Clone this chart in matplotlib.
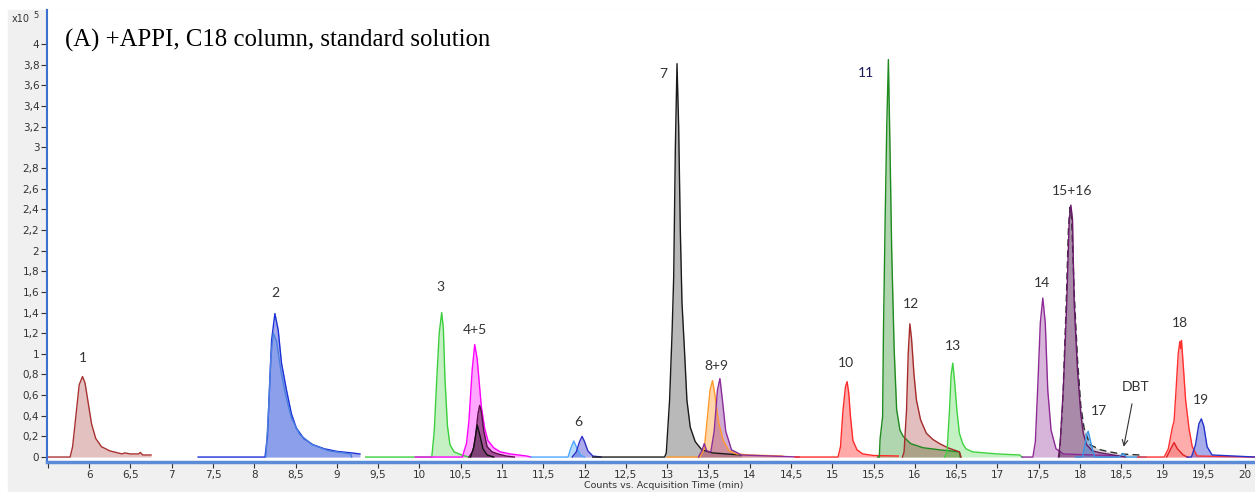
import numpy as np
import matplotlib
matplotlib.use('Agg')
import matplotlib.pyplot as plt
from matplotlib.patches import Rectangle
from matplotlib.ticker import FuncFormatter, MultipleLocator

# retention time (min) / intensity (x10^5 counts)
p1_t = [5.50, 5.77, 5.80, 5.84, 5.88, 5.92, 5.95, 5.99, 6.03, 6.08, 6.15, 6.25, 6.35, 6.40, 6.43, 6.50, 6.60, 6.62, 6.65, 6.75]
p1_y = [0, 0, 0.10, 0.40, 0.70, 0.78, 0.72, 0.52, 0.32, 0.18, 0.10, 0.06, 0.04, 0.03, 0.04, 0.03, 0.03, 0.045, 0.02, 0.02]

p2a_t = [7.32, 8.13, 8.16, 8.18, 8.21, 8.25, 8.29, 8.33, 8.39, 8.45, 8.51, 8.60, 8.71, 8.85, 9.00, 9.18, 9.28]
p2a_y = [0, 0, 0.20, 0.58, 1.13, 1.39, 1.23, 0.91, 0.65, 0.42, 0.28, 0.18, 0.12, 0.08, 0.055, 0.04, 0.03]
p2b_t = [8.14, 8.17, 8.20, 8.23, 8.27, 8.32, 8.38, 8.45, 8.55, 8.70, 8.90, 9.17, 9.18]
p2b_y = [0, 0.40, 0.95, 1.20, 1.12, 0.85, 0.60, 0.38, 0.22, 0.12, 0.06, 0.03, 0]

p3_t = [9.35, 10.15, 10.18, 10.21, 10.24, 10.27, 10.29, 10.31, 10.34, 10.37, 10.42, 10.51, 10.60]
p3_y = [0, 0, 0.25, 0.75, 1.20, 1.40, 1.25, 0.75, 0.30, 0.12, 0.05, 0.02, 0]

p4_t = [9.95, 10.52, 10.55, 10.57, 10.60, 10.64, 10.67, 10.70, 10.75, 10.79, 10.83, 10.90, 10.98, 11.10, 11.30, 11.35]
p4_y = [0, 0, 0.08, 0.13, 0.35, 0.85, 1.09, 0.95, 0.49, 0.28, 0.16, 0.09, 0.05, 0.03, 0.01, 0]
p5a_t = [10.60, 10.65, 10.68, 10.71, 10.73, 10.75, 10.78, 10.82, 10.88, 10.95, 11.05, 11.15]
p5a_y = [0, 0.06, 0.20, 0.42, 0.50, 0.44, 0.25, 0.10, 0.05, 0.03, 0.01, 0]
p5b_t = [10.62, 10.66, 10.70, 10.73, 10.77, 10.82, 10.90]
p5b_y = [0, 0.10, 0.31, 0.22, 0.08, 0.02, 0]

p6a_t = [11.35, 11.80, 11.84, 11.87, 11.90, 11.95, 12.00]
p6a_y = [0, 0, 0.10, 0.155, 0.10, 0.02, 0]
p6b_t = [11.85, 11.90, 11.94, 11.97, 12.00, 12.04, 12.10, 12.20]
p6b_y = [0, 0.05, 0.15, 0.20, 0.15, 0.06, 0.01, 0]

p7_t = [12.10, 12.97, 12.99, 13.03, 13.06, 13.08, 13.10, 13.12, 13.14, 13.16, 13.18, 13.21, 13.24, 13.28, 13.34, 13.42, 13.55, 13.72, 13.90]
p7_y = [0, 0, 0.04, 0.55, 1.20, 1.75, 3.00, 3.81, 3.20, 2.20, 1.50, 1.04, 0.55, 0.29, 0.15, 0.07, 0.04, 0.03, 0.02]

p8_t = [13.00, 13.40, 13.45, 13.49, 13.52, 13.55, 13.58, 13.62, 13.68, 13.75, 13.84, 14.00, 14.40]
p8_y = [0, 0, 0.08, 0.40, 0.65, 0.74, 0.60, 0.35, 0.16, 0.06, 0.03, 0.02, 0.01]
p9_t = [13.38, 13.42, 13.45, 13.48, 13.53, 13.57, 13.61, 13.64, 13.67, 13.71, 13.78, 13.90, 14.60]
p9_y = [0, 0.06, 0.13, 0.06, 0.05, 0.25, 0.65, 0.76, 0.55, 0.25, 0.07, 0.02, 0]

p10_t = [14.55, 15.07, 15.10, 15.13, 15.16, 15.18, 15.20, 15.22, 15.25, 15.30, 15.37, 15.50, 15.80]
p10_y = [0, 0, 0.10, 0.45, 0.68, 0.73, 0.62, 0.40, 0.16, 0.07, 0.03, 0.015, 0.01]

p11_t = [15.55, 15.57, 15.58, 15.61, 15.62, 15.64, 15.66, 15.68, 15.70, 15.72, 15.75, 15.78, 15.82, 15.86, 15.95, 16.10, 16.30, 16.54, 16.55]
p11_y = [0, 0, 0.18, 0.39, 1.20, 2.26, 3.20, 3.85, 2.97, 2.00, 1.04, 0.46, 0.26, 0.20, 0.13, 0.09, 0.07, 0.05, 0]

p12_t = [15.85, 15.87, 15.90, 15.92, 15.94, 15.96, 15.99, 16.02, 16.07, 16.14, 16.22, 16.30, 16.40, 16.54, 16.56]
p12_y = [0, 0.05, 0.46, 1.00, 1.29, 1.15, 0.80, 0.55, 0.36, 0.23, 0.17, 0.13, 0.09, 0.05, 0]

p13_t = [16.36, 16.39, 16.42, 16.44, 16.46, 16.48, 16.51, 16.54, 16.58, 16.62, 16.70, 16.85, 17.00, 17.27, 17.30]
p13_y = [0, 0.05, 0.45, 0.80, 0.91, 0.75, 0.45, 0.23, 0.13, 0.08, 0.05, 0.04, 0.03, 0.02, 0]

p14_t = [17.30, 17.43, 17.46, 17.49, 17.52, 17.55, 17.58, 17.61, 17.65, 17.71, 17.80, 18.50]
p14_y = [0, 0, 0.15, 0.70, 1.30, 1.54, 1.30, 0.65, 0.26, 0.08, 0.03, 0.01]

p15_t = [17.74, 17.76, 17.80, 17.84, 17.87, 17.89, 17.91, 17.93, 17.97, 18.01, 18.04, 18.08, 18.15, 18.25, 18.40, 18.55]
p15_y = [0, 0.13, 0.68, 1.49, 2.30, 2.44, 2.30, 1.49, 0.84, 0.42, 0.23, 0.12, 0.06, 0.04, 0.02, 0]
p16_t = [17.75, 17.79, 17.83, 17.86, 17.88, 17.90, 17.93, 17.97, 18.01, 18.05, 18.12, 18.25, 18.36, 18.50, 18.72, 18.75]
p16_y = [0, 0.50, 1.40, 2.20, 2.42, 2.30, 1.60, 0.95, 0.50, 0.28, 0.12, 0.07, 0.05, 0.03, 0.02, 0]

p17_t = [17.95, 18.03, 18.06, 18.08, 18.10, 18.12, 18.15, 18.18, 18.25]
p17_y = [0, 0, 0.12, 0.22, 0.25, 0.18, 0.08, 0, 0]
dbt_t = [18.25, 18.47, 18.50, 18.52, 18.54, 18.57, 18.80]
dbt_y = [0, 0, 0.02, 0.035, 0.02, 0, 0]

p18_t = [18.70, 19.02, 19.07, 19.12, 19.14, 19.16, 19.19, 19.21, 19.22, 19.23, 19.25, 19.28, 19.32, 19.36, 19.42, 20.12]
p18_y = [0, 0, 0.08, 0.29, 0.35, 0.60, 1.00, 1.12, 1.05, 1.13, 0.90, 0.55, 0.28, 0.10, 0.01, 0]
p18s_t = [19.05, 19.10, 19.14, 19.18, 19.25, 19.30]
p18s_y = [0, 0.08, 0.14, 0.08, 0.02, 0]

p19_t = [19.30, 19.35, 19.40, 19.44, 19.47, 19.50, 19.54, 19.60, 20.12]
p19_y = [0, 0, 0.12, 0.32, 0.37, 0.30, 0.10, 0.02, 0]

peak_names = ['1', '2', '3', '4+5', '6', '7', '8+9', '10', '11', '12', '13', '14', '15+16', '17', '18', '19']
label_t = [5.92, 8.25, 10.26, 10.67, 11.92, 12.95, 13.60, 15.16, 15.41, 15.95, 16.46, 17.54, 17.90, 18.23, 19.21, 19.46]
label_y = [0.96, 1.59, 1.65, 1.23, 0.34, 3.71, 0.88, 0.91, 3.72, 1.48, 1.08, 1.69, 2.58, 0.45, 1.30, 0.55]

# (times, counts, line colour, fill alpha, line style)
traces = [
    (p1_t, p1_y, '#a83232', 0.30, '-'),
    (p2a_t, p2a_y, '#1a2fd6', 0.40, '-'),
    (p2b_t, p2b_y, '#4a7fe0', 0.25, '-'),
    (p3_t, p3_y, '#3ccf3c', 0.30, '-'),
    (p4_t, p4_y, '#ff00ff', 0.35, '-'),
    (p5a_t, p5a_y, '#5a1048', 0.55, '-'),
    (p5b_t, p5b_y, '#111111', 0.25, '-'),
    (p6a_t, p6a_y, '#4da6ff', 0.40, '-'),
    (p6b_t, p6b_y, '#2f2fc8', 0.40, '-'),
    (p7_t, p7_y, '#1a1a1a', 0.30, '-'),
    (p8_t, p8_y, '#ff9a2a', 0.40, '-'),
    (p9_t, p9_y, '#8b2d9a', 0.40, '-'),
    (p10_t, p10_y, '#ff2a2a', 0.40, '-'),
    (p11_t, p11_y, '#1f8a1f', 0.35, '-'),
    (p12_t, p12_y, '#a52a2a', 0.30, '-'),
    (p13_t, p13_y, '#3ed33e', 0.30, '-'),
    (p14_t, p14_y, '#8e2a96', 0.35, '-'),
    (p16_t, p16_y, '#303030', 0.22, (0, (5, 3))),
    (p15_t, p15_y, '#6a1a6a', 0.38, '-'),
    (p17_t, p17_y, '#3a95e6', 0.45, '-'),
    (dbt_t, dbt_y, '#3a95e6', 0.45, '-'),
    (p18_t, p18_y, '#ff3030', 0.40, '-'),
    (p18s_t, p18s_y, '#e02020', 0.20, '-'),
    (p19_t, p19_y, '#2233cc', 0.40, '-'),
]

fig = plt.figure(figsize=(12.55, 4.92), dpi=100, facecolor='white')
fig.patches.append(Rectangle((8 / 1255, 0), 1, 1 - 10 / 492, transform=fig.transFigure,
                             color='#f0f0f0', zorder=-10))
ax = fig.add_axes([47 / 1255, 30 / 492, 1 - 47 / 1255, 452 / 492])
ax.set_facecolor('white')

for t, y, col, a, ls in traces:
    ax.fill_between(t, y, 0, color=col, alpha=a, lw=0)
    ax.plot(t, y, color=col, lw=1.0, ls=ls)

for name, x, y in zip(peak_names, label_t, label_y):
    c = '#1a1a5a' if name == '11' else '#333333'
    ax.text(x, y, name, ha='center', va='center', fontsize=10, family='Lato', color=c)

ax.annotate('DBT', xy=(18.53, 0.10), xytext=(18.67, 0.68), ha='center', va='center',
            fontsize=10, family='Lato', color='#333333',
            arrowprops=dict(arrowstyle='->', color='#333333', lw=0.8, shrinkA=6, shrinkB=0))

ax.set_xlim(5.49, 20.12)
ax.set_ylim(-0.048, 4.33)
ax.xaxis.set_major_locator(MultipleLocator(0.5))
ax.xaxis.set_major_formatter(FuncFormatter(lambda v, p: '' if v < 5.9 else ('%g' % round(v, 1)).replace('.', ',')))
ax.set_yticks(np.arange(0, 4.01, 0.2))
ax.yaxis.set_major_formatter(FuncFormatter(lambda v, p: ('%g' % round(v, 1)).replace('.', ',')))
ax.tick_params(labelsize=7.5, colors='#333333', length=4, width=0.8, pad=1.5)
for s in ['top', 'right']:
    ax.spines[s].set_visible(False)
ax.spines['left'].set_color('#3b6fd0')
ax.spines['left'].set_linewidth(1.5)
ax.spines['bottom'].set_color('#5b8bd6')
ax.spines['bottom'].set_linewidth(2.5)

fig.text(65 / 1255, 1 - 40 / 492, '(A) +APPI, C18 column, standard solution',
         family='Liberation Serif', fontsize=17.8, va='center', ha='left')
fig.text(12 / 1255, 1 - 19 / 492, 'x10', fontsize=7, va='center', color='#333333')
fig.text(33 / 1255, 1 - 15 / 492, '5', fontsize=6, va='center', color='#333333')
fig.text(664 / 1255, 1 - 486 / 492, 'Counts vs. Acquisition Time (min)', fontsize=6.8,
         ha='center', va='center', color='#333333')

fig.savefig('out.png', dpi=100, facecolor=fig.get_facecolor())
